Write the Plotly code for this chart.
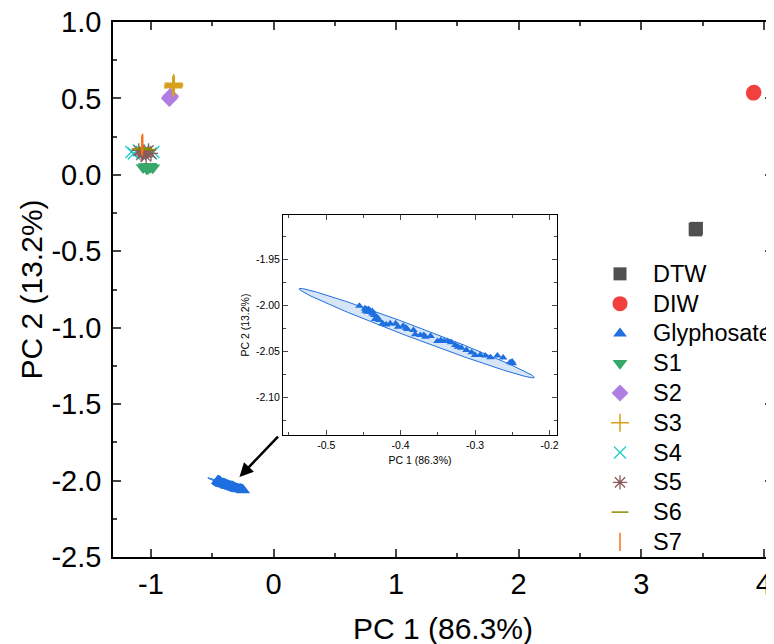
import numpy as np
import plotly.graph_objects as go

# ---------------- data ----------------
dtw_x = [3.440, 3.450, 3.445]
dtw_y = [-0.355, -0.350, -0.360]

diw_x = [3.915, 3.920]
diw_y = [0.535, 0.540]

gly_x = [-0.4554, -0.4480, -0.4462, -0.4434, -0.4416, -0.4379, -0.4471, -0.4448,
         -0.4402, -0.4379, -0.4356, -0.4320, -0.4343, -0.4310, -0.4287, -0.4241,
         -0.4195, -0.4140, -0.4067, -0.4034, -0.3966, -0.3929, -0.3910, -0.3828,
         -0.3805, -0.3736, -0.3690, -0.3667, -0.3598, -0.3506, -0.3460, -0.3414,
         -0.3368, -0.3322, -0.3267, -0.3230, -0.3184, -0.3115, -0.3046, -0.3000,
         -0.2931, -0.2862, -0.2793, -0.2701, -0.2623, -0.2531, -0.2494, -0.2503]
gly_y = [-2.0007, -2.0036, -2.0043, -2.0043, -2.0054, -2.0065, -2.0061, -2.0072,
         -2.0072, -2.0090, -2.0108, -2.0126, -2.0151, -2.0144, -2.0162, -2.0198,
         -2.0209, -2.0198, -2.0198, -2.0234, -2.0224, -2.0245, -2.0260, -2.0270,
         -2.0317, -2.0325, -2.0325, -2.0343, -2.0335, -2.0390, -2.0379, -2.0390,
         -2.0390, -2.0404, -2.0433, -2.0451, -2.0462, -2.0487, -2.0512, -2.0541,
         -2.0541, -2.0548, -2.0567, -2.0548, -2.0570, -2.0621, -2.0631, -2.0613]

s1_x = [-1.065, -1.045, -1.025, -1.005, -0.985, -1.035, -1.010]
s1_y = [0.048, 0.055, 0.042, 0.050, 0.046, 0.040, 0.056]

s2_x = [-0.850, -0.840, -0.845]
s2_y = [0.500, 0.515, 0.508]

s3_x = [-0.820, -0.810, -0.815, -0.822, -0.812]
s3_y = [0.570, 0.590, 0.600, 0.585, 0.578]

s4_x = [-1.160, -1.140, -1.100, -1.050, -1.000, -0.980]
s4_y = [0.150, 0.140, 0.160, 0.150, 0.140, 0.150]

s5_x = [-1.100, -1.080, -1.060, -1.040, -1.020, -1.000, -1.070]
s5_y = [0.160, 0.130, 0.150, 0.120, 0.160, 0.140, 0.140]

s6_x = [-1.090, -1.060, -1.030]
s6_y = [0.170, 0.175, 0.165]

s7_x = [-1.072, -1.068, -1.075, -1.070]
s7_y = [0.190, 0.210, 0.200, 0.185]

# confidence ellipse of the Glyphosate group (tips and half-width)
ell_left = (-0.5365, -1.9820)
ell_right = (-0.2204, -2.0785)
ell_minor = (-0.00283, -0.00607)

x_ticks_main = [-1, 0, 1, 2, 3, 4]
y_ticks_main = [-2.5, -2.0, -1.5, -1.0, -0.5, 0.0, 0.5, 1.0]
x_ticks_inset = [-0.5, -0.4, -0.3, -0.2]
y_ticks_inset = [-1.95, -2.00, -2.05, -2.10]

# ---------------- styling ----------------
FONT = "Liberation Sans, Arial, sans-serif"
C_DTW = "#505050"
C_DIW = "#F2403F"
C_GLY = "#1F6FE0"
C_S1 = "#38A86A"
C_S2 = "#B07EE0"
C_S3 = "#D6A11C"
C_S4 = "#22CBCB"
C_S5 = "#8B5B5B"
C_S6 = "#8C8A00"
C_S7 = "#F5741A"

t = np.linspace(0, 2 * np.pi, 200)
cx = (ell_left[0] + ell_right[0]) / 2
cy = (ell_left[1] + ell_right[1]) / 2
ax_ = (ell_right[0] - ell_left[0]) / 2
ay_ = (ell_right[1] - ell_left[1]) / 2
ex = cx + ax_ * np.cos(t) + ell_minor[0] * np.sin(t)
ey = cy + ay_ * np.cos(t) + ell_minor[1] * np.sin(t)

fig = go.Figure()

for xa, ya in (("x", "y"), ("x2", "y2")):
    fig.add_trace(go.Scatter(x=ex, y=ey, mode="lines", fill="toself",
                             fillcolor="rgba(31,111,224,0.18)",
                             line=dict(color=C_GLY, width=1),
                             hoverinfo="skip", showlegend=False,
                             xaxis=xa, yaxis=ya))

def add(name, xs, ys, symbol, color, size, line=None, legend=True):
    mk = dict(symbol=symbol, color=color, size=size)
    if line:
        mk["line"] = dict(color=color, width=line)
    else:
        mk["line"] = dict(width=0)
    label = f"<span style='font-size:23.5px'>{name}</span>"
    fig.add_trace(go.Scatter(x=xs, y=ys, mode="markers", name=label, marker=mk,
                             showlegend=legend))

add("DTW", dtw_x, dtw_y, "square", C_DTW, 13)
add("DIW", diw_x, diw_y, "circle", C_DIW, 15)
add("Glyphosate", gly_x, gly_y, "triangle-up", C_GLY, 12)
add("S1", s1_x, s1_y, "triangle-down", C_S1, 13)
add("S2", s2_x, s2_y, "diamond", C_S2, 13)
add("S3", s3_x, s3_y, "cross-thin", C_S3, 13, line=1.5)
add("S4", s4_x, s4_y, "x-thin", C_S4, 12, line=1.3)
add("S5", s5_x, s5_y, "asterisk", C_S5, 12, line=1.3)
add("S6", s6_x, s6_y, "line-ew", C_S6, 12, line=1.5)
add("S7", s7_x, s7_y, "line-ns", C_S7, 13, line=1.5)

fig.add_trace(go.Scatter(x=gly_x, y=gly_y, mode="markers", showlegend=False,
                         marker=dict(symbol="triangle-up", color=C_GLY, size=7.5,
                                     line=dict(width=0)),
                         xaxis="x2", yaxis="y2"))

axis_common = dict(showgrid=False, zeroline=False, showline=True, automargin=False,
                   linecolor="black", mirror="allticks", ticks="inside",
                   ticklabeloverflow="allow")

# the page body adds an 8 px offset; margins compensate for it
fig.update_layout(
    width=774, height=644,
    margin=dict(l=105, r=9, t=14, b=95, autoexpand=False),
    paper_bgcolor="white", plot_bgcolor="white",
    font=dict(family=FONT, color="black"),
    xaxis=dict(**axis_common, range=[-1.31, 4.075], tickvals=x_ticks_main,
               ticktext=[str(v) for v in x_ticks_main],
               ticklen=8, tickwidth=1.5, linewidth=1.5,
               minor=dict(ticks="inside", dtick=0.5, tick0=0, ticklen=4, tickwidth=1.5),
               tickfont=dict(size=29),
               title=dict(text="PC 1 (86.3%)", font=dict(size=30), standoff=19)),
    yaxis=dict(**axis_common, range=[-2.5, 1.0], tickvals=y_ticks_main,
               ticktext=[f"{v:.1f}" for v in y_ticks_main],
               ticklen=8, tickwidth=1.5, linewidth=1.5, ticklabelstandoff=4,
               minor=dict(ticks="inside", dtick=0.25, tick0=0, ticklen=4, tickwidth=1.5),
               tickfont=dict(size=29),
               title=dict(text="PC 2 (13.2%)", font=dict(size=30), standoff=0)),
    xaxis2=dict(**axis_common, domain=[0.2576, 0.6727], anchor="y2",
                range=[-0.558, -0.19], tickvals=x_ticks_inset,
                ticktext=[f"{v:.1f}" for v in x_ticks_inset],
                ticklen=5, tickwidth=1, linewidth=1,
                minor=dict(ticks="inside", dtick=0.05, tick0=0, ticklen=3, tickwidth=1),
                tickfont=dict(size=10.5),
                title=dict(text="PC 1 (86.3%)", font=dict(size=10.5), standoff=7)),
    yaxis2=dict(**axis_common, domain=[0.228, 0.639], anchor="x2",
                range=[-2.141, -1.902], tickvals=y_ticks_inset,
                ticktext=[f"{v:.2f}" for v in y_ticks_inset],
                ticklen=5, tickwidth=1, linewidth=1,
                minor=dict(ticks="inside", dtick=0.025, tick0=0, ticklen=3, tickwidth=1),
                tickfont=dict(size=10.5),
                title=dict(text="PC 2 (13.2%)", font=dict(size=10.5), standoff=4)),
    legend=dict(x=0.7182, y=0.5664, xanchor="left", yanchor="top",
                bgcolor="rgba(0,0,0,0)", font=dict(size=20.6),
                itemwidth=56, tracegroupgap=0),
    annotations=[dict(x=-0.278, y=-1.977, ax=0.048, ay=-1.702,
                      xref="x", yref="y", axref="x", ayref="y",
                      text="", showarrow=True, arrowhead=2, arrowsize=1.1,
                      arrowwidth=2.5, arrowcolor="black")],
)

fig.write_html("out.html")
